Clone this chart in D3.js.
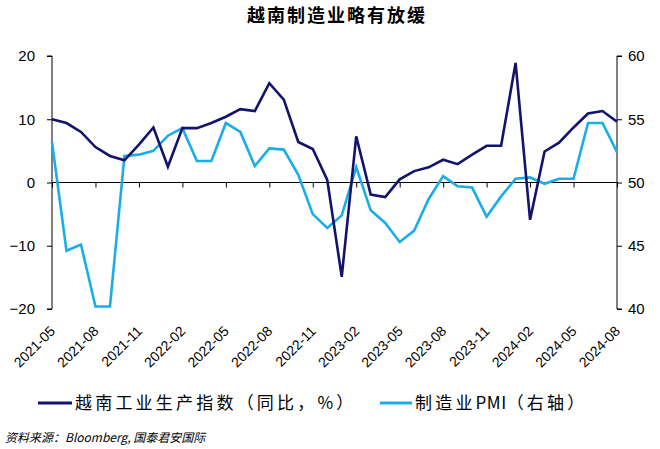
<!DOCTYPE html>
<html><head><meta charset="utf-8">
<script src="https://cdn.jsdelivr.net/npm/d3@7"></script>
<style>
html,body{margin:0;padding:0;background:#fff;}
svg{display:block;}
</style></head>
<body>
<svg id="c" width="660" height="449"></svg>
<script>
const months = ["2021-05","2021-06","2021-07","2021-08","2021-09","2021-10","2021-11","2021-12",
"2022-01","2022-02","2022-03","2022-04","2022-05","2022-06","2022-07","2022-08","2022-09","2022-10","2022-11","2022-12",
"2023-01","2023-02","2023-03","2023-04","2023-05","2023-06","2023-07","2023-08","2023-09","2023-10","2023-11","2023-12",
"2024-01","2024-02","2024-03","2024-04","2024-05","2024-06","2024-07","2024-08"];
const tickLabels = ["2021-05","2021-08","2021-11","2022-02","2022-05","2022-08","2022-11","2023-02","2023-05","2023-08","2023-11","2024-02","2024-05","2024-08"];
const iipYoY = [10.0,9.4,8.0,5.6,4.2,3.5,6.0,8.7,2.5,8.6,8.6,9.4,10.4,11.6,11.3,15.7,13.1,6.4,5.3,0.4,
-14.9,7.3,-1.9,-2.3,0.5,1.8,2.4,3.6,2.9,4.4,5.8,5.8,18.9,-5.9,4.9,6.3,8.7,10.9,11.3,9.6];
const pmi = [53.2,44.6,45.1,40.2,40.2,52.1,52.2,52.5,53.7,54.3,51.7,51.7,54.7,54.0,51.3,52.7,52.6,50.6,47.5,46.4,
47.4,51.2,47.8,46.8,45.3,46.2,48.7,50.5,49.7,49.6,47.3,48.9,50.3,50.4,49.9,50.3,50.3,54.7,54.7,52.4];
const leftTicks = [-20,-10,0,10,20];
const rightTicks = [40,45,50,55,60];
const title = "越南制造业略有放缓";
const seriesNames = ["越南工业生产指数（同比，%）","制造业PMI（右轴）"];
const source = "资料来源：Bloomberg, 国泰君安国际";

const darkC = "#13136c", lightC = "#1aaee8";
const L = 52, R = 617, T = 56, B = 309;
const svg = d3.select("#c");
const x = d3.scalePoint().domain(months).range([L, R]);
const yL = d3.scaleLinear().domain([-20,20]).range([B, T]);
const yR = d3.scaleLinear().domain([40,60]).range([B, T]);
const tickFont = "'Liberation Sans', Arial, sans-serif";
const cjk = "'Noto Sans CJK SC', sans-serif";

// title
svg.append("text").attr("x", 337).attr("y", 22).attr("text-anchor","middle")
  .attr("font-family", cjk).attr("font-weight","bold").attr("font-size", 18)
  .attr("letter-spacing", 2).attr("fill","#000").text(title);

// left axis
const gl = svg.append("g").attr("transform", `translate(${L},0)`)
  .call(d3.axisLeft(yL).tickValues(leftTicks).tickSize(5).tickPadding(12).tickFormat(d3.format("d")));
gl.select(".domain").attr("d", `M-5,${T}H0V${B}H-5`).attr("stroke","#000");
gl.selectAll("text").attr("font-family", tickFont).attr("font-size", 15).attr("fill","#000");
gl.selectAll("line").attr("stroke","#000");

// right axis
const gr = svg.append("g").attr("transform", `translate(${R},0)`)
  .call(d3.axisRight(yR).tickValues(rightTicks).tickSize(5).tickPadding(6).tickFormat(d3.format("d")));
gr.select(".domain").attr("d", `M5,${T}H0V${B}H5`).attr("stroke","#000");
gr.selectAll("text").attr("font-family", tickFont).attr("font-size", 15).attr("fill","#000");
gr.selectAll("line").attr("stroke","#000");

// zero line axis with ticks
const gx = svg.append("g").attr("transform", `translate(0,${yL(0)})`)
  .call(d3.axisBottom(x).tickValues(tickLabels).tickSize(5).tickFormat(""));
gx.select(".domain").attr("d", `M${L},0H${R}`).attr("stroke","#000");
gx.selectAll("line").attr("stroke","#000");

// x labels at bottom
svg.append("g").selectAll("text").data(tickLabels).join("text")
  .attr("transform", d => `translate(${x(d)+4},${B+23}) rotate(-45)`)
  .attr("text-anchor","end").attr("font-family", tickFont).attr("font-size", 14).attr("fill","#000")
  .text(d => d);

// lines
const lineL = d3.line().x((d,i) => x(months[i])).y(d => yL(d));
const lineR = d3.line().x((d,i) => x(months[i])).y(d => yR(d));
svg.append("path").datum(pmi).attr("d", lineR).attr("fill","none")
  .attr("stroke", lightC).attr("stroke-width", 2.6).attr("stroke-linejoin","miter");
svg.append("path").datum(iipYoY).attr("d", lineL).attr("fill","none")
  .attr("stroke", darkC).attr("stroke-width", 2.6).attr("stroke-linejoin","miter");

// legend
const leg = [{c: darkC, x1: 38, x2: 72, tx: 75, t: seriesNames[0]},
             {c: lightC, x1: 380, x2: 412, tx: 415, t: seriesNames[1]}];
leg.forEach(l => {
  svg.append("line").attr("x1", l.x1).attr("x2", l.x2).attr("y1", 403).attr("y2", 403)
    .attr("stroke", l.c).attr("stroke-width", 3);
  const t = svg.append("text").attr("x", l.tx).attr("y", 409).attr("font-family", cjk)
    .attr("font-size", 17).attr("fill","#000");
  // CJK glyphs spaced, Latin letters tight
  const parts = l.t.match(/[A-Za-z]+|[^A-Za-z]/g);
  parts.forEach(p => {
    t.append("tspan").attr("letter-spacing", /[A-Za-z]/.test(p) ? 0.5 : 3.2).text(p);
  });
});

// source
svg.append("text").attr("x", 5).attr("y", 442).attr("font-family", cjk)
  .attr("font-size", 12).attr("font-style","italic").attr("fill","#000").text(source);
</script>
</body></html>
